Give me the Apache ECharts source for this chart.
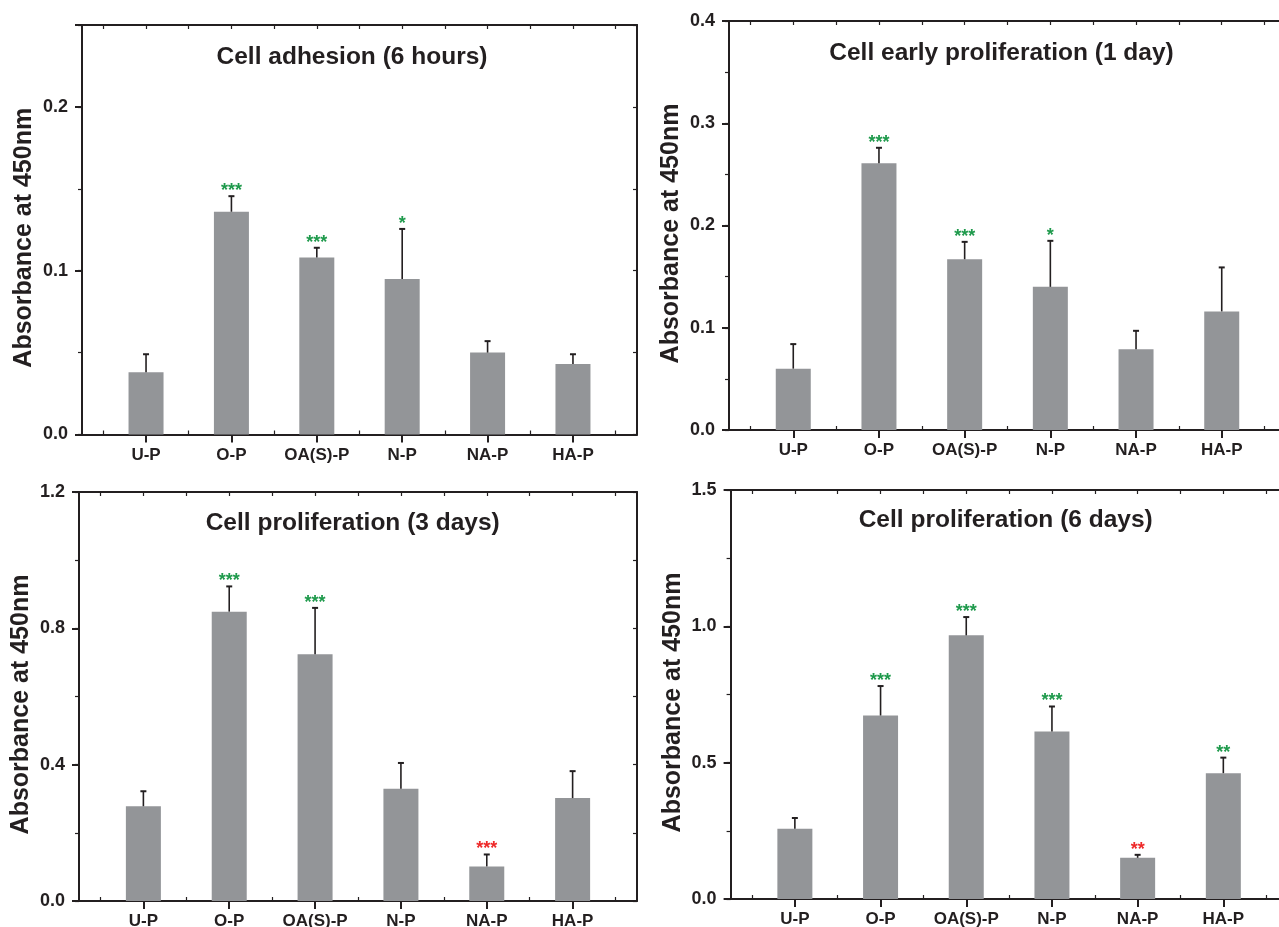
<!DOCTYPE html>
<html><head><meta charset="utf-8">
<script src="https://cdn.jsdelivr.net/npm/echarts@6/dist/echarts.min.js"></script>
<style>html,body{margin:0;padding:0;background:#fff}#c{width:1279px;height:927px}</style>
</head><body><div id="c"></div>
<script>
// ---------------- data ----------------
const categories = ['U-P', 'O-P', 'OA(S)-P', 'N-P', 'NA-P', 'HA-P'];
const panelTitles = ['Cell adhesion (6 hours)', 'Cell early proliferation (1 day)', 'Cell proliferation (3 days)', 'Cell proliferation (6 days)'];
const yAxisName = 'Absorbance at 450nm';

const adhesion6hMean = [0.038, 0.136, 0.108, 0.095, 0.050, 0.043];
const adhesion6hSD   = [0.011, 0.0095, 0.006, 0.0305, 0.007, 0.006];
const adhesion6hSig  = [0, 3, 3, 1, 0, 0];

const prolif1dMean = [0.060, 0.261, 0.167, 0.140, 0.079, 0.116];
const prolif1dSD   = [0.024, 0.015, 0.017, 0.045, 0.018, 0.043];
const prolif1dSig  = [0, 3, 3, 1, 0, 0];

const prolif3dMean = [0.278, 0.849, 0.724, 0.329, 0.1015, 0.302];
const prolif3dSD   = [0.044, 0.074, 0.136, 0.076, 0.035, 0.079];
const prolif3dSig  = [0, 3, 3, 0, -3, 0];   // negative = significantly lower

const prolif6dMean = [0.258, 0.673, 0.967, 0.614, 0.151, 0.4615];
const prolif6dSD   = [0.039, 0.108, 0.067, 0.092, 0.011, 0.057];
const prolif6dSig  = [0, 3, 3, 3, -2, 2];

// y-axis ticks: [max, label step, minor step]
const yMax   = [0.25, 0.4, 1.2, 1.5];
const yStep  = [0.1, 0.1, 0.4, 0.5];
const yMinor = [0.05, 0.05, 0.2, 0.25];

// ---------------- layout / style ----------------
const FONT = '"Liberation Sans", Arial, Helvetica, sans-serif';
const INK = '#231f20';
const BAR = '#939598';
const GREEN = '#1f9a4c';
const RED = '#ee2a2a';

const grids = [
  {left: 82, width: 555, top: 25, height: 409.5},
  {left: 729, width: 557, top: 21, height: 409},
  {left: 79, width: 558, top: 492, height: 409},
  {left: 730.6, width: 557, top: 490, height: 409}
];
const titlePos = [
  {cx: 352, top: 45}, {cx: 1001.5, top: 41}, {cx: 352.7, top: 511}, {cx: 1005.7, top: 508}
];

const panels = [
  [adhesion6hMean, adhesion6hSD, adhesion6hSig],
  [prolif1dMean, prolif1dSD, prolif1dSig],
  [prolif3dMean, prolif3dSD, prolif3dSig],
  [prolif6dMean, prolif6dSD, prolif6dSig]
];

// category axis of quarter steps from -0.75 to 5.75 (27 points); category i sits at 3 + 4i
const N = 27;
const idxOf = i => 3 + 4 * i;
const xData = new Array(N).fill('');
categories.forEach((c, i) => { xData[idxOf(i)] = c; });

const xAxes = [], yAxes = [], series = [], titles = [];
panels.forEach((p, g) => {
  const [mean, sd, sig] = p;
  const step = yStep[g];
  const baseX = xAxes.length, baseY = yAxes.length;
  xAxes.push({
    type: 'category', gridIndex: g, position: 'bottom', data: xData, boundaryGap: false,
    axisLine: {show: true, onZero: false, lineStyle: {color: INK, width: 2}},
    axisTick: {show: true, length: 8, lineStyle: {color: INK, width: 2}, interval: (i) => i % 4 === 3},
    axisLabel: {show: true, interval: (i) => i % 4 === 3, margin: 12, color: INK, fontSize: 17, fontWeight: 'bold', fontFamily: FONT},
    splitLine: {show: false}
  });
  xAxes.push({
    type: 'category', gridIndex: g, position: 'bottom', data: xData, boundaryGap: false,
    axisLine: {show: false},
    axisTick: {show: true, inside: true, length: 4, lineStyle: {color: INK, width: 1.2}, interval: (i) => i % 4 === 1},
    axisLabel: {show: false}, splitLine: {show: false}
  });
  xAxes.push({
    type: 'category', gridIndex: g, position: 'top', data: xData, boundaryGap: false,
    axisLine: {show: true, onZero: false, lineStyle: {color: INK, width: 2}},
    axisTick: {show: true, inside: true, length: 4, lineStyle: {color: INK, width: 1.2}, interval: (i) => i % 2 === 1},
    axisLabel: {show: false}, splitLine: {show: false}
  });
  yAxes.push({
    type: 'value', gridIndex: g, position: 'left', min: 0, max: yMax[g], interval: step,
    name: yAxisName, nameLocation: 'middle', nameGap: 45, nameRotate: 90,
    nameTextStyle: {color: INK, fontSize: 25, fontWeight: 'bold', fontFamily: FONT, padding: [0, 16, 0, 0]},
    axisLine: {show: true, onZero: false, lineStyle: {color: INK, width: 2}},
    axisTick: {show: true, length: 7, lineStyle: {color: INK, width: 2}},
    axisLabel: {
      show: true, margin: 14, color: INK, fontSize: 18, fontWeight: 'bold', fontFamily: FONT,
      formatter: (v) => (Math.abs(v / step - Math.round(v / step)) < 1e-6 ? v.toFixed(1) : '')
    },
    splitLine: {show: false}
  });
  yAxes.push({
    type: 'value', gridIndex: g, position: 'left', min: 0, max: yMax[g], interval: yMinor[g],
    axisLine: {show: false}, axisLabel: {show: false}, splitLine: {show: false},
    axisTick: {show: true, length: 4, lineStyle: {color: INK, width: 1.2}}
  });
  yAxes.push({
    type: 'value', gridIndex: g, position: 'right', min: 0, max: yMax[g], interval: yMinor[g],
    axisLine: {show: true, onZero: false, lineStyle: {color: INK, width: 2}},
    axisLabel: {show: false}, splitLine: {show: false},
    axisTick: {show: true, inside: true, length: 4, lineStyle: {color: INK, width: 1.2}}
  });

  const barData = new Array(N).fill(null);
  mean.forEach((v, i) => { barData[idxOf(i)] = v; });
  series.push({
    type: 'bar', xAxisIndex: baseX, yAxisIndex: baseY, data: barData, barWidth: 35,
    itemStyle: {color: BAR}, silent: true, z: 2
  });
  series.push({
    type: 'custom', xAxisIndex: baseX, yAxisIndex: baseY, z: 3, silent: true,
    dimensions: [{name: 'x', type: 'number'}, {name: 'top', type: 'number'}, {name: 'mean', type: 'number'}, {name: 'sig', type: 'number'}],
    encode: {x: 0, y: 1},
    data: mean.map((v, i) => [idxOf(i), v + sd[i], v, sig[i]]),
    renderItem: (params, api) => {
      const k = api.value(0), top = api.value(1), m = api.value(2), s = api.value(3);
      const pt = api.coord([k, top]);
      const pm = api.coord([k, m]);
      const children = [
        {type: 'line', shape: {x1: pt[0], y1: pt[1], x2: pm[0], y2: pm[1]}, style: {stroke: INK, lineWidth: 1.6}},
        {type: 'line', shape: {x1: pt[0] - 3, y1: pt[1], x2: pt[0] + 3, y2: pt[1]}, style: {stroke: INK, lineWidth: 2}}
      ];
      if (s !== 0) {
        children.push({
          type: 'text', x: pt[0], y: pt[1] - 5,
          style: {text: '*'.repeat(Math.abs(s)), fill: s > 0 ? GREEN : RED, font: 'bold 18px ' + FONT, align: 'center', verticalAlign: 'middle'}
        });
      }
      return {type: 'group', children};
    }
  });
  titles.push({
    text: panelTitles[g], left: titlePos[g].cx, top: titlePos[g].top, textAlign: 'center', padding: 0,
    textStyle: {color: INK, fontSize: 24.5, fontWeight: 'bold', fontFamily: FONT}
  });
});

const chart = echarts.init(document.getElementById('c'), null, {renderer: 'canvas'});
chart.setOption({
  animation: false,
  backgroundColor: '#fff',
  title: titles,
  grid: grids.map(g => Object.assign({containLabel: false, outerBoundsMode: 'none'}, g)),
  xAxis: xAxes,
  yAxis: yAxes,
  series: series
});
</script></body></html>
